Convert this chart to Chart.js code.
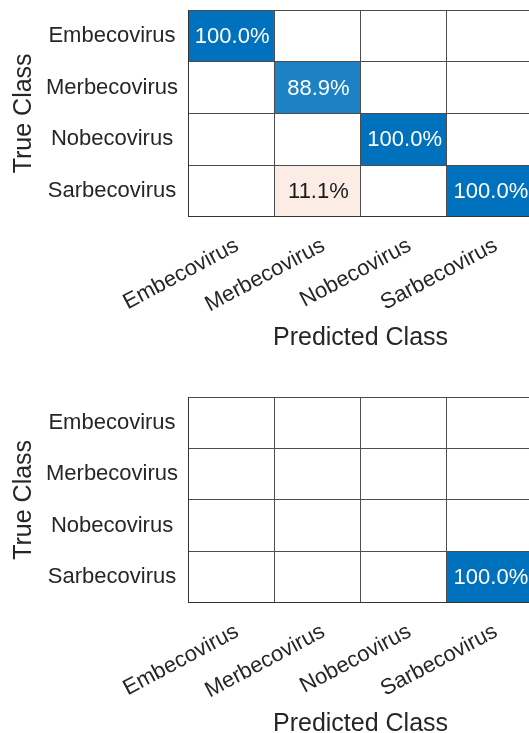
<!DOCTYPE html>
<html><head><meta charset="utf-8">
<script src="https://cdn.jsdelivr.net/npm/chart.js@4"></script>
<style>
html,body{margin:0;padding:0;background:#fff;overflow:hidden;width:529px;height:733px;}
.wrap{position:absolute;left:0;width:560px;}
#w1{top:0;height:370px}
#w2{top:370px;height:363px}
</style></head><body>
<div class="wrap" id="w1"><canvas id="c1"></canvas></div>
<div class="wrap" id="w2"><canvas id="c2"></canvas></div>
<script>
// ---- data ----
const classes = ['Embecovirus', 'Merbecovirus', 'Nobecovirus', 'Sarbecovirus'];
// rows = true class, columns = predicted class (percent)
const topValues = [
  [100.0, 0, 0, 0],
  [0, 88.9, 0, 0],
  [0, 0, 100.0, 0],
  [0, 11.1, 0, 100.0]
];
const bottomValues = [
  [0, 0, 0, 0],
  [0, 0, 0, 0],
  [0, 0, 0, 0],
  [0, 0, 0, 100.0]
];
const xTitle = 'Predicted Class';
const yTitle = 'True Class';

// ---- styling ----
Chart.defaults.font.family = "'Liberation Sans', Arial, Helvetica, sans-serif";
const DIAG = [0, 114, 189];
const OFF = [217, 83, 25];
function blend(rgb, t) {
  const c = rgb.map(v => Math.round(255 - t * (255 - v)));
  return `rgb(${c[0]},${c[1]},${c[2]})`;
}
function cellColor(v, diag) {
  if (!v) return '#ffffff';
  return blend(diag ? DIAG : OFF, v / 100);
}

const cellText = {
  id: 'cellText',
  afterDatasetsDraw(chart) {
    const ctx = chart.ctx;
    ctx.save();
    ctx.font = "22px 'Liberation Sans', Arial, sans-serif";
    ctx.textAlign = 'center';
    ctx.textBaseline = 'middle';
    chart.data.datasets.forEach((ds, r) => {
      const meta = chart.getDatasetMeta(r);
      meta.data.forEach((bar, c) => {
        const v = ds.values[c];
        if (!v) return;
        const p = bar.getProps(['x', 'y', 'base'], true);
        ctx.fillStyle = v > 50 ? '#ffffff' : '#1a1a1a';
        ctx.fillText(v.toFixed(1) + '%', p.x + 1, (p.y + p.base) / 2 + 1);
      });
    });
    ctx.restore();
  }
};

function zeroPad(scale) {
  scale.paddingTop = 0; scale.paddingBottom = 0;
  scale.paddingLeft = 0; scale.paddingRight = 0;
}

function makeChart(id, values, padTop, padBottom) {
  return new Chart(document.getElementById(id), {
    type: 'bar',
    data: {
      labels: classes,
      datasets: values.map((row, r) => ({
        label: classes[r],
        data: row.map(() => 1),
        values: row,
        backgroundColor: row.map((v, c) => cellColor(v, r === c)),
        borderWidth: 0,
        barPercentage: 1,
        categoryPercentage: 1,
        stack: 's'
      }))
    },
    options: {
      responsive: true,
      maintainAspectRatio: false,
      animation: false,
      layout: { padding: { left: 8, right: 27, top: padTop, bottom: padBottom } },
      plugins: { legend: { display: false }, tooltip: { enabled: false } },
      scales: {
        x: {
          type: 'category', stacked: true, offset: true,
          afterFit: zeroPad,
          grid: { offset: true, color: '#4d4d4d', drawTicks: false, lineWidth: 1, z: 1 },
          border: { display: true, color: '#333', z: 2 },
          ticks: { minRotation: 28, maxRotation: 28, autoSkip: false, font: { size: 22 }, color: '#262626', padding: 16, labelOffset: 6 },
          title: { display: true, text: xTitle, font: { size: 25, lineHeight: 1 }, color: '#262626', padding: { top: -8, bottom: -4 } }
        },
        y: {
          type: 'linear', stacked: true, min: 0, max: 4, reverse: true, position: 'left',
          afterBuildTicks: ax => { ax.ticks = classes.map((_, i) => ({ value: i + 0.5 })); },
          afterFit: zeroPad,
          grid: { offset: true, color: '#4d4d4d', drawTicks: false, lineWidth: 1, z: 1 },
          border: { display: true, color: '#333', z: 2 },
          ticks: { callback: v => classes[Math.floor(v)], font: { size: 22 }, color: '#262626', padding: 10, crossAlign: 'center', autoSkip: false },
          title: { display: true, text: yTitle, font: { size: 25, lineHeight: 1 }, color: '#262626', padding: { top: 4, bottom: -1 } }
        }
      }
    },
    plugins: [cellText]
  });
}

makeChart('c1', topValues, 10, 23);
makeChart('c2', bottomValues, 27, 0);
</script>
</body></html>
